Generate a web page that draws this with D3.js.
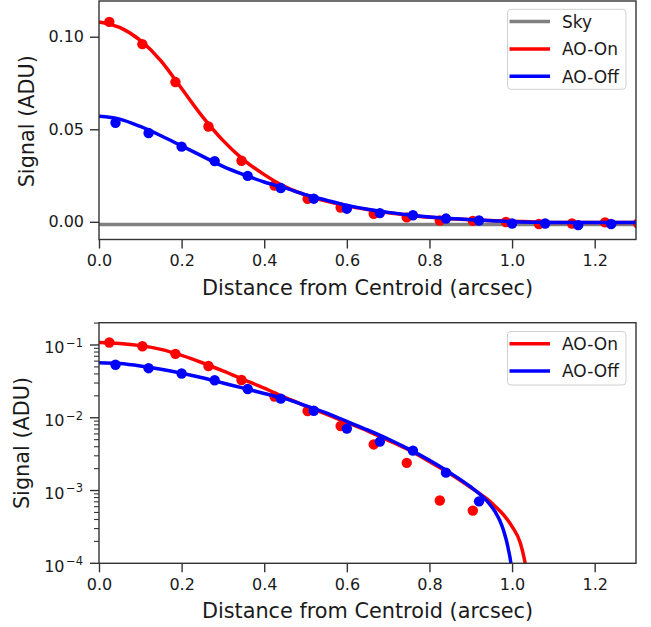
<!DOCTYPE html>
<html>
<head>
<meta charset="utf-8">
<script src="https://cdn.jsdelivr.net/npm/d3@7"></script>
<style>
  html, body { margin: 0; padding: 0; background: #fff; }
  svg { display: block; font-family: "DejaVu Sans", sans-serif; }
</style>
</head>
<body>
<svg id="chart" width="651" height="627"></svg>
<script>
// ---------- data ----------
const distOn  = [0.025, 0.105, 0.185, 0.265, 0.345, 0.425, 0.505, 0.585, 0.665, 0.745, 0.825, 0.905, 0.985, 1.065, 1.145, 1.225, 1.305];
const sigOn   = [0.108, 0.096, 0.0755, 0.0515, 0.033, 0.0196, 0.0124, 0.0077, 0.0043, 0.0024, 0.00073, 0.00053, -0.0001, -0.0012, -0.0009, -0.0003, -0.0009];
const distOff = [0.04, 0.12, 0.20, 0.28, 0.36, 0.44, 0.52, 0.60, 0.68, 0.76, 0.84, 0.92, 1.00, 1.08, 1.16, 1.24];
const sigOff  = [0.0535, 0.048, 0.0406, 0.0328, 0.0248, 0.0183, 0.0125, 0.0071, 0.0047, 0.00353, 0.00176, 0.00071, -0.0009, -0.0009, -0.0018, -0.0012];

const fitROn  = [0, 0.05, 0.10, 0.15, 0.20, 0.25, 0.30, 0.35, 0.40, 0.45, 0.50, 0.55, 0.60, 0.65, 0.70, 0.75, 0.80, 0.85, 0.90, 0.92, 0.94, 0.96, 0.98, 1.00, 1.02, 1.03, 1.04, 1.045, 1.05, 1.10, 1.20, 1.30];
const fitOn   = [0.108, 0.105, 0.098, 0.087, 0.072, 0.057, 0.044, 0.0335, 0.0255, 0.0190, 0.0145, 0.0112, 0.0086, 0.0066, 0.0049, 0.0036, 0.0025, 0.0017, 0.0011, 0.00092, 0.00076, 0.00060, 0.00046, 0.00032, 0.00019, 0.000112, 0.00005, 0.00002, -0.0001, -0.0003, -0.0004, -0.0004];
const fitROff = [0, 0.05, 0.10, 0.15, 0.20, 0.25, 0.30, 0.35, 0.40, 0.45, 0.50, 0.55, 0.60, 0.65, 0.70, 0.75, 0.80, 0.85, 0.90, 0.92, 0.94, 0.96, 0.97, 0.98, 0.99, 1.00, 1.005, 1.05, 1.10, 1.20, 1.30];
const fitOff  = [0.057, 0.0555, 0.0515, 0.0465, 0.0410, 0.0355, 0.0300, 0.0255, 0.0215, 0.0183, 0.0147, 0.0117, 0.0089, 0.0068, 0.0051, 0.0037, 0.0026, 0.00175, 0.00112, 0.00091, 0.00071, 0.0005, 0.00039, 0.000275, 0.000166, 0.00007, 0.000025, -0.0002, -0.0003, -0.0004, -0.0004];
const skyLevel = -0.0015;

const xTicks = [0.0, 0.2, 0.4, 0.6, 0.8, 1.0, 1.2];
const yTicksLin = [0.00, 0.05, 0.10];
const yTicksLog = [1e-4, 1e-3, 1e-2, 1e-1];
const legendTop = ["Sky", "AO-On", "AO-Off"];
const legendBottom = ["AO-On", "AO-Off"];
const colors = { "Sky": "#808080", "AO-On": "#ff0000", "AO-Off": "#0000ff" };

// ---------- layout ----------
const svg = d3.select("#chart");
const L = 99, R = 636;
const TOP = { y0: 1, y1: 239.5 };
const BOT = { y0: 322.7, y1: 563.3 };
const axisColor = "#333";
const textColor = "#1a1a1a";

const x = d3.scaleLinear().domain([0, 1.3]).range([L, R]);
const yLin = d3.scaleLinear().domain([-0.00955, 0.1193]).range([TOP.y1, TOP.y0]);
const yLog = d3.scaleLog().domain([1e-4, 0.2024]).range([BOT.y1, BOT.y0]);

const defs = svg.append("defs");
function clip(id, box) {
  defs.append("clipPath").attr("id", id).append("rect")
    .attr("x", L).attr("y", box.y0).attr("width", R - L).attr("height", box.y1 - box.y0);
}
clip("clipTop", TOP);
clip("clipBot", BOT);

function zip(a, b) { return a.map((v, i) => [v, b[i]]); }

function drawPanel(g, y, box, clipId, isLog) {
  const plot = g.append("g").attr("clip-path", `url(#${clipId})`);
  const ok = d => !isLog || d[1] > 0;
  const line = d3.line().x(d => x(d[0])).y(d => y(d[1])).curve(d3.curveMonotoneX);

  if (!isLog) {
    plot.append("path")
      .attr("d", line([[0, skyLevel], [1.3, skyLevel]]))
      .attr("fill", "none").attr("stroke", colors["Sky"]).attr("stroke-width", 3.5);
  }
  const series = [
    { name: "AO-On", fx: fitROn, fy: fitOn, px: distOn, py: sigOn },
    { name: "AO-Off", fx: fitROff, fy: fitOff, px: distOff, py: sigOff }
  ];
  series.forEach(s => {
    const fd = zip(s.fx, s.fy).filter(ok);
    plot.append("path").attr("d", line(fd))
      .attr("fill", "none").attr("stroke", colors[s.name]).attr("stroke-width", 3.5)
      .attr("stroke-linejoin", "round");
    plot.selectAll(null).data(zip(s.px, s.py).filter(ok)).enter().append("circle")
      .attr("cx", d => x(d[0])).attr("cy", d => y(d[1])).attr("r", 5.2)
      .attr("fill", colors[s.name]);
  });

  // frame
  g.append("rect").attr("x", L).attr("y", box.y0).attr("width", R - L).attr("height", box.y1 - box.y0)
    .attr("fill", "none").attr("stroke", axisColor).attr("stroke-width", 1.4);

  // x axis
  const xa = g.append("g").attr("transform", `translate(0,${box.y1})`)
    .call(d3.axisBottom(x).tickValues(xTicks).tickFormat(d3.format(".1f")).tickSize(9).tickPadding(6));
  xa.select(".domain").remove();
  xa.selectAll("line").attr("stroke", axisColor).attr("stroke-width", 1.4);
  xa.selectAll("text").attr("font-size", 16).attr("fill", textColor).attr("font-family", "DejaVu Sans");
  g.append("text").attr("x", (L + R) / 2).attr("y", box.y1 + 55)
    .attr("text-anchor", "middle").attr("font-size", 20.8).attr("fill", textColor)
    .text("Distance from Centroid (arcsec)");
}

// ---------- top panel ----------
const gTop = svg.append("g");
drawPanel(gTop, yLin, TOP, "clipTop", false);
const ya = gTop.append("g").attr("transform", `translate(${L},0)`)
  .call(d3.axisLeft(yLin).tickValues(yTicksLin).tickFormat(d3.format(".2f")).tickSize(9).tickPadding(6));
ya.select(".domain").remove();
ya.selectAll("line").attr("stroke", axisColor).attr("stroke-width", 1.4);
ya.selectAll("text").attr("font-size", 16).attr("fill", textColor).attr("font-family", "DejaVu Sans");
gTop.append("text").attr("transform", `translate(33.5,${(TOP.y0 + TOP.y1) / 2 + 1}) rotate(-90)`)
  .attr("text-anchor", "middle").attr("font-size", 20.8).attr("fill", textColor).text("Signal (ADU)");

// ---------- bottom panel ----------
const gBot = svg.append("g");
drawPanel(gBot, yLog, BOT, "clipBot", true);
// minor ticks
const minor = [];
[1e-4, 1e-3, 1e-2, 1e-1].forEach(dec => { for (let k = 2; k <= 9; k++) { const v = dec * k; if (v <= 0.2024) minor.push(v); } });
gBot.selectAll(null).data(minor).enter().append("line")
  .attr("x1", L - 5).attr("x2", L).attr("y1", d => yLog(d)).attr("y2", d => yLog(d))
  .attr("stroke", axisColor).attr("stroke-width", 1.1);
gBot.selectAll(null).data(yTicksLog).enter().append("line")
  .attr("x1", L - 9).attr("x2", L).attr("y1", d => yLog(d)).attr("y2", d => yLog(d))
  .attr("stroke", axisColor).attr("stroke-width", 1.4);
const lab = gBot.selectAll(null).data(yTicksLog).enter().append("text")
  .attr("x", 83).attr("y", d => yLog(d) + 8.3)
  .attr("text-anchor", "end").attr("font-size", 16).attr("fill", textColor);
lab.append("tspan").text("10");
lab.append("tspan").attr("dy", -6.5).attr("dx", 1.5).attr("font-size", 11.5)
  .text(d => "\u2212" + Math.round(-Math.log10(d)));
gBot.append("text").attr("transform", `translate(28.5,${(BOT.y0 + BOT.y1) / 2}) rotate(-90)`)
  .attr("text-anchor", "middle").attr("font-size", 20.8).attr("fill", textColor).text("Signal (ADU)");

// ---------- legends ----------
function legend(items, top, bottom) {
  const g = svg.append("g");
  g.append("rect").attr("x", 507.5).attr("y", top).attr("width", 118.5).attr("height", bottom - top)
    .attr("rx", 3.5).attr("fill", "#fff").attr("fill-opacity", 0.8)
    .attr("stroke", "#d0d0d0").attr("stroke-width", 1);
  items.forEach((name, i) => {
    const yy = top + 12.2 + i * 27.4;
    g.append("line").attr("x1", 509.5).attr("x2", 550).attr("y1", yy).attr("y2", yy)
      .attr("stroke", colors[name]).attr("stroke-width", 3.5);
    g.append("text").attr("x", 562).attr("y", yy + 6.2).attr("font-size", 17)
      .attr("fill", textColor).text(name);
  });
}
legend(legendTop, 9.3, 89.3);
legend(legendBottom, 331.5, 385);
</script>
</body>
</html>
